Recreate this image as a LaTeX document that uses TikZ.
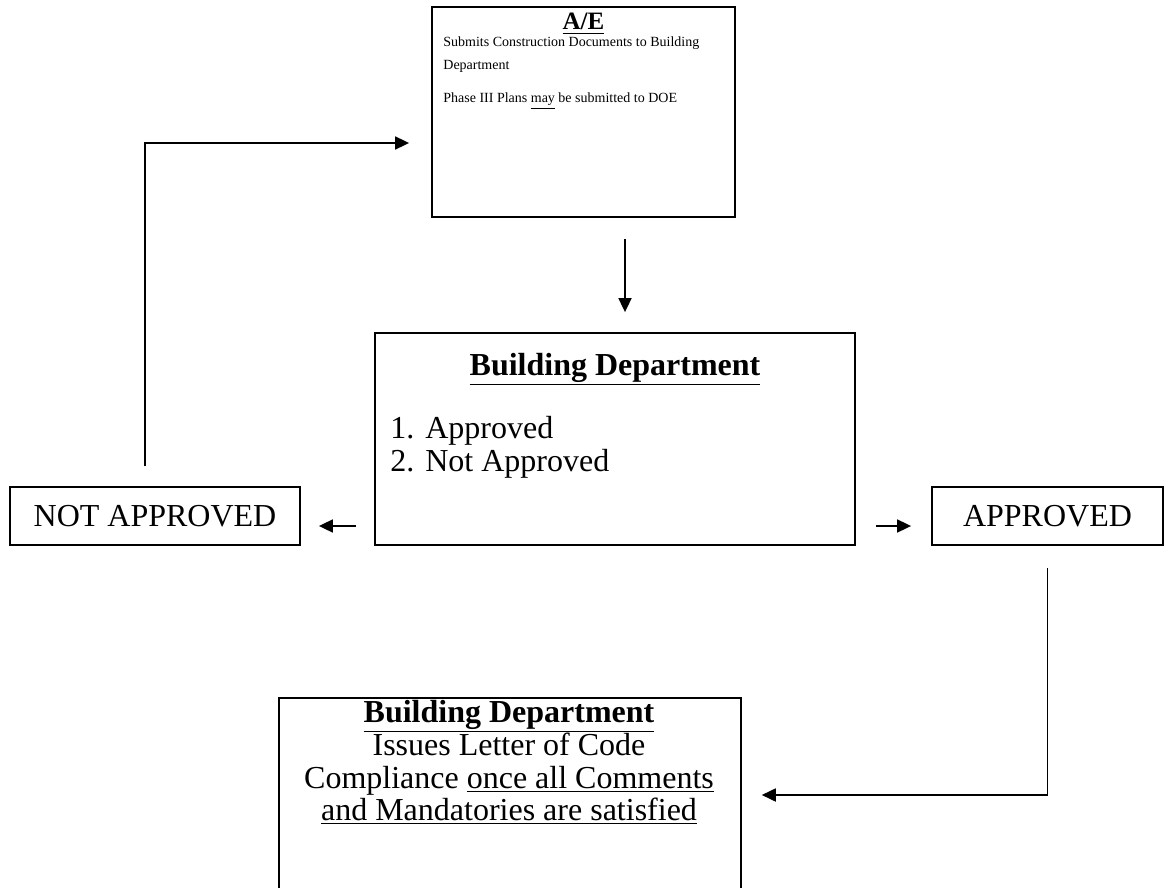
\documentclass[tikz,border=0pt]{standalone}
\usepackage{fontspec}
\setmainfont{Liberation Serif}
\usetikzlibrary{arrows.meta,positioning}

\tikzset{
    flowbox/.style={draw, line width=0.9pt, inner sep=0pt},
    arr/.style={line width=0.9pt, -{Triangle[length=7pt,width=6.5pt]}},
    bigtxt/.style={font=\fontsize{16}{16.5}\selectfont, inner sep=0pt},
    bighead/.style={font=\bfseries\fontsize{16}{16.5}\selectfont, inner sep=0pt},
    smalltxt/.style={font=\fontsize{7}{11.5}\selectfont, inner sep=0pt},
    smallhead/.style={font=\bfseries\fontsize{12.5}{13}\selectfont, inner sep=0pt},
}

\begin{document}
\begin{tikzpicture}[x=0.5pt,y=-0.5pt]
    \clip (0,0) rectangle (1174,888);

    % boxes
    \node[flowbox, minimum width=151.5pt, minimum height=105pt] (ae) at (583.5,112) {};
    \node[flowbox, minimum width=240pt, minimum height=106pt] (bd) at (615,439) {};
    \node[flowbox, bigtxt, minimum width=145pt, minimum height=29pt] (notok) at (155,516) {NOT APPROVED};
    \node[flowbox, bigtxt, minimum width=115.5pt, minimum height=29pt] (ok) at (1047.5,516) {APPROVED};
    \node[flowbox, minimum width=231pt, minimum height=120pt, anchor=north west] (letter) at (278,697) {};

    % A/E text
    \node[smallhead, anchor=base] (aehead) at (583.5,30) {\underline{A/E}};
    \node[smalltxt, anchor=base west] (aeline1) at (443,47) {Submits Construction Documents to Building};
    \node[smalltxt, anchor=base west] (aeline2) at (443,70) {Department};
    \node[smalltxt, anchor=base west] (aeline3) at (443,103) {Phase III Plans \underline{may} be submitted to DOE};

    % building department text
    \node[bighead, anchor=base] (bdhead) at (615,375) {\underline{Building Department}};
    \node[bigtxt, anchor=base west] (item1) at (390,438) {\makebox[17.5pt][l]{1.}Approved};
    \node[bigtxt, anchor=base west] (item2) at (390,471) {\makebox[17.5pt][l]{2.}Not Approved};

    % letter text
    \node[bighead, anchor=base] (lethead) at (509,722) {\underline{Building Department}};
    \node[bigtxt, anchor=base] (letline1) at (509,755) {Issues Letter of Code};
    \node[bigtxt, anchor=base] (letline2) at (509,788) {Compliance \underline{once all Comments}};
    \node[bigtxt, anchor=base] (letline3) at (509,820) {\underline{and Mandatories are satisfied}};

    % connectors
    \coordinate (downx) at (625,0);
    \coordinate (arry) at (0,526);
    \coordinate (loopx) at (145,0);
    \coordinate (loopy) at (0,143);
    \coordinate (backy) at (0,795);

    \draw[arr, shorten <=10.5pt, shorten >=10pt] (ae.south -| downx) -- (bd.north -| downx);
    \draw[arr, shorten <=9pt, shorten >=9pt] (bd.west |- arry) -- (notok.east |- arry);
    \draw[arr, shorten <=10pt, shorten >=10pt] (bd.east |- arry) -- (ok.west |- arry);
    \draw[arr, shorten <=10pt, shorten >=11pt] (notok.north -| loopx) |- (ae.west |- loopy);
    \draw[arr, shorten <=11pt, shorten >=10pt] (ok.south) |- (letter.east |- backy);
\end{tikzpicture}
\end{document}
